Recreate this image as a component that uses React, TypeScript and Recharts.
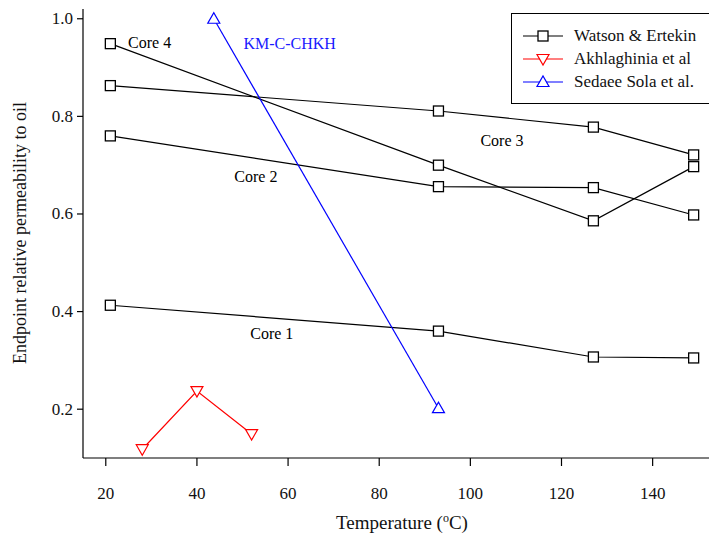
import React from "react"
import {
  ComposedChart,
  Line,
  Scatter,
  XAxis,
  YAxis,
  Label,
} from "recharts"

// Watson & Ertekin cores (temperature in °C vs endpoint kro)
const coreTemps = [21, 93, 127, 149]
const core1 = [0.413, 0.36, 0.307, 0.305]
const core2 = [0.76, 0.656, 0.654, 0.598]
const core3 = [0.863, 0.811, 0.778, 0.721]
const core4 = [0.949, 0.7, 0.586, 0.697]

// Akhlaghinia et al
const akhTemps = [28, 40, 52]
const akhValues = [0.118, 0.237, 0.149]

// Sedaee Sola et al
const sedaeeTemps = [43.7, 93]
const sedaeeValues = [1.0, 0.202]

const xTicks = [20, 40, 60, 80, 100, 120, 140]
const yTicks = [0.2, 0.4, 0.6, 0.8, 1.0]

// in-plot annotations, anchored at their left edge
const notes = [
  { x: 24.9, y: 0.952, text: "Core 4", color: "#000" },
  { x: 50.2, y: 0.95, text: "KM-C-CHKH", color: "#1a1aff" },
  { x: 102.2, y: 0.751, text: "Core 3", color: "#000" },
  { x: 48.2, y: 0.677, text: "Core 2", color: "#000" },
  { x: 51.7, y: 0.356, text: "Core 1", color: "#000" },
]

const toPoints = (xs: number[], ys: number[]) => xs.map((x, i) => ({ x, y: ys[i] }))

const FONT = "Liberation Serif, Times New Roman, serif"
const RED = "#ff0000"
const BLUE = "#0000ff"

const squareDot = (props: any) => {
  const { cx, cy, index } = props
  if (cx == null || cy == null) return <g key={index} />
  return (
    <rect key={index} x={cx - 5} y={cy - 5} width={10} height={10}
      fill="#fff" stroke="#000" strokeWidth={1.3} />
  )
}

const triDown = (color: string) => (props: any) => {
  const { cx, cy, index } = props
  if (cx == null || cy == null) return <g key={index} />
  return (
    <path key={index} d={`M${cx - 6},${cy - 4.5} L${cx + 6},${cy - 4.5} L${cx},${cy + 6} Z`}
      fill="#fff" stroke={color} strokeWidth={1.2} />
  )
}

const triUp = (color: string) => (props: any) => {
  const { cx, cy, index } = props
  if (cx == null || cy == null) return <g key={index} />
  return (
    <path key={index} d={`M${cx - 6},${cy + 4.5} L${cx + 6},${cy + 4.5} L${cx},${cy - 6} Z`}
      fill="#fff" stroke={color} strokeWidth={1.2} />
  )
}

const NoteShape = (props: any) => {
  const { cx, cy, payload } = props
  return (
    <text x={cx} y={cy} dominantBaseline="central" style={{ fontFamily: FONT }}
      fontSize={16} fill={payload.color}>
      {payload.text}
    </text>
  )
}

const XTick = (props: any) => {
  const { x, y, payload } = props
  return (
    <text x={x} y={y} dy={12} textAnchor="middle" style={{ fontFamily: FONT }} fontSize={17} fill="#111">
      {payload.value}
    </text>
  )
}

const YTick = (props: any) => {
  const { x, y, payload } = props
  return (
    <text x={x} y={y} dy={5.5} textAnchor="end" style={{ fontFamily: FONT }} fontSize={17} fill="#111">
      {Number(payload.value).toFixed(1)}
    </text>
  )
}

const legendRows = [
  { name: "Watson & Ertekin", color: "#000", marker: "square" },
  { name: "Akhlaghinia et al", color: RED, marker: "down" },
  { name: "Sedaee Sola et al.", color: BLUE, marker: "up" },
]

const LegendBox = () => (
  <div
    style={{
      position: "absolute",
      left: 511,
      top: 13,
      border: "1.5px solid #000",
      width: 210,
      height: 91,
      background: "#fff",
      boxSizing: "border-box",
      paddingTop: 10,
      fontFamily: FONT,
      fontSize: 17,
    }}
  >
    {legendRows.map((r) => (
      <div key={r.name} style={{ display: "flex", alignItems: "center", height: 23 }}>
        <svg width={62} height={20} style={{ flexShrink: 0 }}>
          <line x1={11} y1={10} x2={51} y2={10} stroke={r.color} strokeWidth={1.2} />
          {r.marker === "square" && (
            <rect x={26} y={5} width={10} height={10} fill="#fff" stroke={r.color} strokeWidth={1.3} />
          )}
          {r.marker === "down" && (
            <path d="M25,5.5 L37,5.5 L31,16 Z" fill="#fff" stroke={r.color} strokeWidth={1.2} />
          )}
          {r.marker === "up" && (
            <path d="M25,14.5 L37,14.5 L31,4 Z" fill="#fff" stroke={r.color} strokeWidth={1.2} />
          )}
        </svg>
        <span style={{ whiteSpace: "nowrap", color: "#111" }}>{r.name}</span>
      </div>
    ))}
  </div>
)

const XTitle = (props: any) => {
  const { viewBox } = props
  const cx = viewBox.x + viewBox.width / 2
  return (
    <text x={cx} y={529} textAnchor="middle" style={{ fontFamily: FONT }} fontSize={19} fill="#111">
      Temperature (<tspan fontSize={12} dy={-7}>o</tspan>
      <tspan dy={7}>C)</tspan>
    </text>
  )
}

// rotated title, centred on the plot's vertical span (9..458)
const YTitle = () => (
  <text x={0} y={0} transform="translate(26, 233) rotate(-90)" textAnchor="middle"
    style={{ fontFamily: FONT }} fontSize={18} fill="#111">
    Endpoint relative permeability to oil
  </text>
)

export default function App() {
  return (
    <div style={{ position: "absolute", left: 0, top: 0, width: 709, height: 539, overflow: "hidden", background: "#fff" }}>
      <ComposedChart width={721} height={539} margin={{ top: 9, right: 0, bottom: 0, left: 0 }}>
        <XAxis
          type="number"
          dataKey="x"
          domain={[15, 155]}
          ticks={xTicks}
          allowDataOverflow
          stroke="#000"
          strokeWidth={1.2}
          tickSize={8}
          tickMargin={21}
          height={81}
          tick={<XTick />}
        >
          <Label content={<XTitle />} />
        </XAxis>
        <XAxis
          xAxisId="top"
          orientation="top"
          type="number"
          dataKey="x"
          domain={[15, 155]}
          height={0}
          tick={false}
          tickLine={false}
          stroke="#000"
          strokeWidth={1.2}
        />
        <YAxis
          type="number"
          domain={[0.1, 1.02]}
          ticks={yTicks}
          allowDataOverflow
          width={83}
          stroke="#000"
          strokeWidth={1.2}
          tickSize={6}
          tickMargin={4}
          tick={<YTick />}
        >
          <Label content={<YTitle />} />
        </YAxis>

        <Line data={toPoints(coreTemps, core1)} dataKey="y" stroke="#000" strokeWidth={1.2}
          dot={squareDot} activeDot={false} isAnimationActive={false} />
        <Line data={toPoints(coreTemps, core2)} dataKey="y" stroke="#000" strokeWidth={1.2}
          dot={squareDot} activeDot={false} isAnimationActive={false} />
        <Line data={toPoints(coreTemps, core3)} dataKey="y" stroke="#000" strokeWidth={1.2}
          dot={squareDot} activeDot={false} isAnimationActive={false} />
        <Line data={toPoints(coreTemps, core4)} dataKey="y" stroke="#000" strokeWidth={1.2}
          dot={squareDot} activeDot={false} isAnimationActive={false} />
        <Line data={toPoints(akhTemps, akhValues)} dataKey="y" stroke={RED} strokeWidth={1.2}
          dot={triDown(RED)} activeDot={false} isAnimationActive={false} />
        <Line data={toPoints(sedaeeTemps, sedaeeValues)} dataKey="y" stroke={BLUE} strokeWidth={1.2}
          dot={triUp(BLUE)} activeDot={false} isAnimationActive={false} />

        <Scatter data={notes} dataKey="y" shape={<NoteShape />} isAnimationActive={false} />
      </ComposedChart>
      <LegendBox />
    </div>
  )
}
